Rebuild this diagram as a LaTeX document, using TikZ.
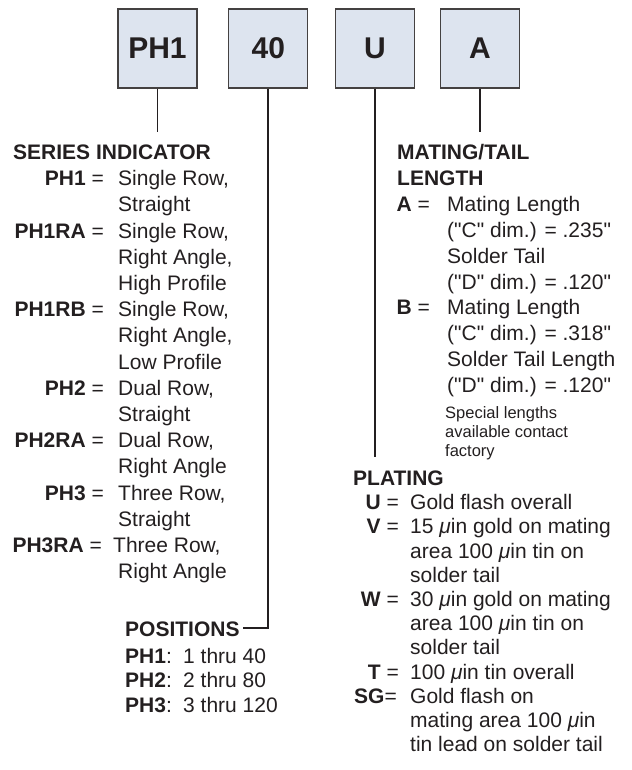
\documentclass[tikz,border=0pt]{standalone}
\usepackage{fontspec}
\setmainfont{Liberation Sans}
\definecolor{ink}{HTML}{231F20}
\definecolor{boxfill}{HTML}{DDE4EF}
\newcommand{\txtrows}[1]{\begin{tabular}[t]{@{}l@{}}#1\end{tabular}}
\newcommand{\dq}{\XeTeXglyph\XeTeXcharglyph"22\relax}
\tikzset{
  codebox/.style={draw=ink!85, line width=1.2pt, fill=boxfill, minimum size=79pt,
    inner sep=0pt, text=ink, font=\fontsize{30}{36}\selectfont\bfseries},
  lead/.style={draw=ink, line width=1.8pt},
  txt/.style={inner sep=0pt, text=ink, anchor=base west},
  key/.style={inner sep=0pt, text=ink, anchor=base east},
  lft/.style={font=\fontsize{21}{26.2}\selectfont},
  rgt/.style={font=\fontsize{21}{25.9}\selectfont},
  pl/.style={font=\fontsize{21}{24.2}\selectfont},
  ps/.style={font=\fontsize{21}{24.7}\selectfont},
  note/.style={font=\fontsize{16.5}{19}\selectfont}
}
\begin{document}
\begin{tikzpicture}[x=1pt, y=-1pt]
\useasboundingbox (0,0) rectangle (631,770);
% part number boxes
\node[codebox] (ph)   at (157.5,48.5) {PH1};
\node[codebox] (num)  at (268.3,48.5) {40};
\node[codebox] (plat) at (375,48.5) {U};
\node[codebox] (len)  at (480,48.5) {A};
% leads down to the headings
\coordinate (phend)   at (157.5,132);
\coordinate (numend)  at (243,628);
\coordinate (platend) at (375,457);
\coordinate (lenend)  at (480,132);
\draw[lead] (ph.south) -- (phend);
\draw[lead] (num.south) -- (num.south |- numend) -- (numend);
\draw[lead] (plat.south) -- (platend);
\draw[lead] (len.south) -- (lenend);
% series indicator
\node[txt, lft] (ser) at (13,159.5) {\textbf{SERIES INDICATOR}};
\node[key, lft] (k1) at (104,185.7) {\textbf{PH1} =};
\node[txt, lft] (d1) at (118,185.7) {\txtrows{Single Row,\\Straight}};
\node[key, lft] (k2) at (104,238.1) {\textbf{PH1RA} =};
\node[txt, lft] (d2) at (118,238.1) {\txtrows{Single Row,\\Right Angle,\\High Profile}};
\node[key, lft] (k3) at (104,316.7) {\textbf{PH1RB} =};
\node[txt, lft] (d3) at (118,316.7) {\txtrows{Single Row,\\Right Angle,\\Low Profile}};
\node[key, lft] (k4) at (104,395.3) {\textbf{PH2} =};
\node[txt, lft] (d4) at (118,395.3) {\txtrows{Dual Row,\\Straight}};
\node[key, lft] (k5) at (104,447.7) {\textbf{PH2RA} =};
\node[txt, lft] (d5) at (118,447.7) {\txtrows{Dual Row,\\Right Angle}};
\node[key, lft] (k6) at (104,500.1) {\textbf{PH3} =};
\node[txt, lft] (d6) at (118,500.1) {\txtrows{Three Row,\\Straight}};
\node[key, lft] (k7) at (102,552.5) {\textbf{PH3RA} =};
\node[txt, lft] (d7) at (113,552.5) {\txtrows{Three Row,\\\hspace{5pt}Right Angle}};
% positions
\node[txt, ps] (posn) at (125,636.5) {\textbf{POSITIONS}};
\node[txt, ps] (p1) at (125,663) {\textbf{PH1}:};
\node[txt, ps] (v1) at (183,663) {1 thru 40};
\node[txt, ps] (p2) at (125,687.7) {\textbf{PH2}:};
\node[txt, ps] (v2) at (183,687.7) {2 thru 80};
\node[txt, ps] (p3) at (125,712.4) {\textbf{PH3}:};
\node[txt, ps] (v3) at (183,712.4) {3 thru 120};
% mating/tail length
\node[txt, rgt] (mat) at (397,159.5) {\txtrows{\textbf{MATING/TAIL}\\\textbf{LENGTH}}};
\node[key, rgt] (ka) at (430,211.3) {\textbf{A} =};
\node[txt, rgt] (da) at (447,211.3) {\txtrows{Mating Length\\(\dq C\dq\ dim.) = .235\dq\\Solder Tail\\(\dq D\dq\ dim.) = .120\dq}};
\node[key, rgt] (kb) at (430,314.9) {\textbf{B} =};
\node[txt, rgt] (db) at (447,314.9) {\txtrows{Mating Length\\(\dq C\dq\ dim.) = .318\dq\\Solder Tail Length\\(\dq D\dq\ dim.) = .120\dq}};
\node[txt, note] (spec) at (445,418) {\txtrows{Special lengths\\available contact\\factory}};
% plating
\node[txt, pl] (plt) at (353,485.5) {\textbf{PLATING}};
\node[key, pl] (ku) at (399,509.7) {\textbf{U} =};
\node[txt, pl] (du) at (410,509.7) {Gold flash overall};
\node[key, pl] (kv) at (399,533.9) {\textbf{V} =};
\node[txt, pl] (dv) at (410,533.9) {\txtrows{15 \textit{μ}in gold on mating\\area 100 \textit{μ}in tin on\\solder tail}};
\node[key, pl] (kw) at (399,606.5) {\textbf{W} =};
\node[txt, pl] (dw) at (410,606.5) {\txtrows{30 \textit{μ}in gold on mating\\area 100 \textit{μ}in tin on\\solder tail}};
\node[key, pl] (kt) at (399,679.1) {\textbf{T} =};
\node[txt, pl] (dt) at (410,679.1) {100 \textit{μ}in tin overall};
\node[key, pl] (ksg) at (397,703.3) {\textbf{SG}=};
\node[txt, pl] (dsg) at (410,703.3) {\txtrows{Gold flash on\\mating area 100 \textit{μ}in\\tin lead on solder tail}};
\end{tikzpicture}
\end{document}
